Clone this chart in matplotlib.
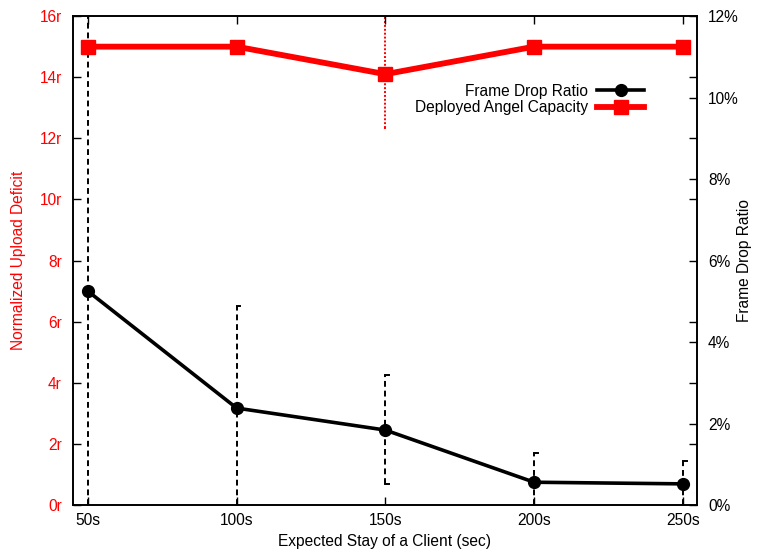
import matplotlib
matplotlib.use("Agg")
import matplotlib.pyplot as plt
from matplotlib.ticker import FixedLocator

plt.rcParams['font.family'] = ['Liberation Sans', 'DejaVu Sans']

stay = [50, 100, 150, 200, 250]
x_labels = ['50s', '100s', '150s', '200s', '250s']

# Deployed Angel Capacity (normalized upload deficit, units of r)
capacity = [15.0, 15.0, 14.1, 15.0, 15.0]
cap_low = [15.0, 15.0, 12.34, 15.0, 15.0]
cap_high = [15.0, 15.0, 15.94, 15.0, 15.0]

# Frame Drop Ratio (%)
drop = [5.25, 2.38, 1.84, 0.56, 0.52]
drop_low = [0.0, 0.0, 0.52, 0.0, 0.0]
drop_high = [13.0, 4.88, 3.19, 1.28, 1.08]

left_ticks = [0, 2, 4, 6, 8, 10, 12, 14, 16]
left_labels = ['0r', '2r', '4r', '6r', '8r', '10r', '12r', '14r', '16r']
right_ticks = [0, 2, 4, 6, 8, 10, 12]
right_labels = ['0%', '2%', '4%', '6%', '8%', '10%', '12%']

fig = plt.figure(figsize=(7.6, 5.55), dpi=100)
ax1 = fig.add_axes([0.096, 0.090, 0.821, 0.881])
ax2 = ax1.twinx()

FS = 11.2

# Right axis: frame drop ratio
for xi, lo, hi in zip(stay, drop_low, drop_high):
    ax2.plot([xi, xi], [lo, hi], color='black', lw=1.4, ls=(0, (3, 2)), zorder=1)
    for yv in (lo, hi):
        if 0 < yv < 12:
            ax2.plot([xi, xi + 1.2], [yv, yv], color='black', lw=1.4, zorder=1)
ax2.plot(stay, drop, color='black', lw=2.6, marker='o', ms=8.5, zorder=3)
ax2.set_ylim(0, 12)
ax2.set_yticks(right_ticks)
ax2.set_yticklabels(right_labels, fontsize=FS)
ax2.yaxis.set_minor_locator(FixedLocator([v * 0.75 for v in left_ticks]))
ax2.tick_params(axis='y', which='both', direction='in', length=6, width=1, pad=8)
ax2.set_ylabel('Frame Drop Ratio', fontsize=FS, labelpad=-1)

# Left axis: capacity
for xi, lo, hi in zip(stay, cap_low, cap_high):
    if hi > lo:
        ax1.plot([xi, xi], [lo, hi], color='red', lw=1.4, ls=(0, (1, 1)), zorder=1)
        for yv in (lo, hi):
            ax1.plot([xi - 0.6, xi + 0.6], [yv, yv], color='red', lw=1.4, ls=(0, (1, 1)), zorder=1)
ax1.plot(stay, capacity, color='red', lw=4.2, marker='s', ms=10, zorder=3)
ax1.set_ylim(0, 16)
ax1.set_xlim(45, 254.7)
ax1.set_yticks(left_ticks)
ax1.set_yticklabels(left_labels, fontsize=FS, color='red')
ax1.set_xticks(stay)
ax1.set_xticklabels(x_labels, fontsize=FS)
ax1.tick_params(axis='y', direction='in', length=6, width=1, pad=8)
ax1.tick_params(axis='x', direction='in', length=6, width=1, pad=6, top=True)
ax1.set_xlabel('Expected Stay of a Client (sec)', fontsize=FS, labelpad=4)
ax1.set_ylabel('Normalized Upload Deficit', fontsize=FS, color='red', labelpad=10)

ax1.set_zorder(ax2.get_zorder() + 1)
ax1.patch.set_visible(False)

for ax in (ax1, ax2):
    for s in ax.spines.values():
        s.set_linewidth(1.2)

h_drop, = ax1.plot([], [], color='black', lw=2.6, marker='o', ms=8.5)
h_cap, = ax1.plot([], [], color='red', lw=4.2, marker='s', ms=10)
ax1.legend([h_drop, h_cap], ['Frame Drop Ratio', 'Deployed Angel Capacity'],
           loc='upper right', bbox_to_anchor=(0.915, 0.862), frameon=False,
           markerfirst=False, fontsize=FS, handlelength=3.0, borderpad=0,
           borderaxespad=0, labelspacing=0.1, handletextpad=0.6)

fig.savefig('out.png', dpi=100)
